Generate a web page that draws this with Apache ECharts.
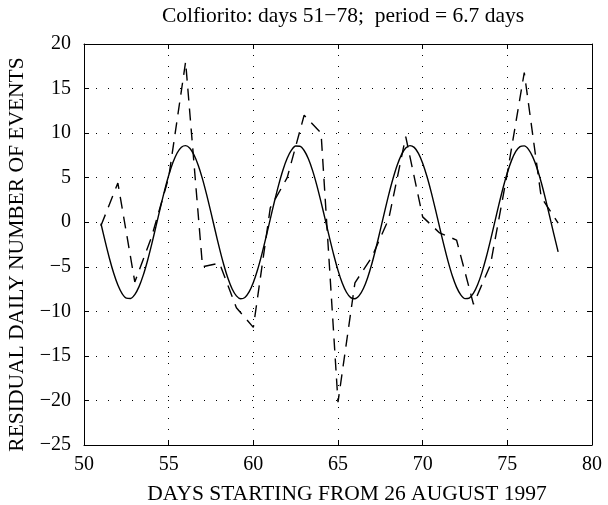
<!DOCTYPE html>
<html>
<head>
<meta charset="utf-8">
<script src="https://cdn.jsdelivr.net/npm/echarts@6/dist/echarts.min.js"></script>
<style>
html,body{margin:0;padding:0;background:#fff;}
#chart{width:608px;height:505px;}
</style>
</head>
<body>
<div id="chart"></div>
<script>
// Observed residual daily number of events (dashed)
const obsDays = [51,52,53,54,55,56,57,58,59,60,61,62,63,64,65,66,67,68,69,70,71,72,73,74,75,76,77,78];
const obsValues = [-0.4,4.4,-6.7,-1.6,5.0,18.0,-5.0,-4.6,-9.6,-11.8,1.6,5.0,12.0,10.0,-20.2,-6.8,-3.9,0.4,9.6,0.6,-1.2,-2.0,-9.2,-4.8,5.5,16.8,2.8,-0.1];

// Fitted periodic curve (solid), every quarter day
const fitDays = [51,51.25,51.5,51.75,52,52.25,52.5,52.75,53,53.25,53.5,53.75,54,54.25,54.5,54.75,55,55.25,55.5,55.75,56,56.25,56.5,56.75,57,57.25,57.5,57.75,58,58.25,58.5,58.75,59,59.25,59.5,59.75,60,60.25,60.5,60.75,61,61.25,61.5,61.75,62,62.25,62.5,62.75,63,63.25,63.5,63.75,64,64.25,64.5,64.75,65,65.25,65.5,65.75,66,66.25,66.5,66.75,67,67.25,67.5,67.75,68,68.25,68.5,68.75,69,69.25,69.5,69.75,70,70.25,70.5,70.75,71,71.25,71.5,71.75,72,72.25,72.5,72.75,73,73.25,73.5,73.75,74,74.25,74.5,74.75,75,75.25,75.5,75.75,76,76.25,76.5,76.75,77,77.25,77.5,77.75,78];
const fitValues = [-0.14,-2.15,-4.04,-5.70,-7.05,-8.01,-8.52,-8.56,-8.12,-7.23,-5.94,-4.32,-2.46,-0.47,1.56,3.49,5.24,6.69,7.77,8.42,8.60,8.30,7.54,6.37,4.84,3.04,1.07,-0.96,-2.93,-4.74,-6.29,-7.49,-8.27,-8.59,-8.44,-7.82,-6.76,-5.33,-3.60,-1.67,0.35,2.35,4.22,5.86,7.17,8.08,8.55,8.53,8.05,7.12,5.79,4.14,2.26,0.26,-1.76,-3.68,-5.40,-6.82,-7.86,-8.46,-8.59,-8.24,-7.44,-6.22,-4.66,-2.84,-0.86,1.16,3.13,4.91,6.43,7.59,8.32,8.60,8.40,7.73,6.63,5.16,3.41,1.46,-0.56,-2.55,-4.40,-6.01,-7.28,-8.15,-8.57,-8.51,-7.97,-7.00,-5.63,-3.96,-2.06,-0.05,1.97,3.87,5.56,6.94,7.94,8.49,8.57,8.18,7.33,6.08,4.48,2.64,0.65,-1.37,-3.32];

const xMin = 50, xMax = 80, xStep = 5;
const yMin = -25, yMax = 20, yStep = 5;

const titleText = 'Colfiorito: days 51\u221278;  period = 6.7 days';
const xName = 'DAYS STARTING FROM 26 AUGUST 1997';
const yName = 'RESIDUAL DAILY NUMBER OF EVENTS';

const FONT = '"Liberation Serif", "Times New Roman", serif';

const chart = echarts.init(document.getElementById('chart'), null, {renderer:'canvas'});

const minus = v => String(v).replace('-', '\u2212');

const baseX = {
  type:'value', min:xMin, max:xMax, interval:xStep,
  axisLine:{show:true, onZero:false, lineStyle:{color:'#000', width:1}},
  axisTick:{show:true, inside:true, length:5, lineStyle:{color:'#000'}},
};
const baseY = {
  type:'value', min:yMin, max:yMax, interval:yStep,
  axisLine:{show:true, onZero:false, lineStyle:{color:'#000', width:1}},
  axisTick:{show:true, inside:true, length:5, lineStyle:{color:'#000'}},
};

chart.setOption({
  backgroundColor:'#fff',
  animation:false,
  title:{
    text:titleText, left:338, top:0, textAlign:'center',
    textStyle:{fontFamily:FONT, fontSize:21.5, fontWeight:'normal', color:'#000'}
  },
  grid:{left:84, right:16, top:44, bottom:60, containLabel:false, outerBoundsMode:'none'},
  xAxis:[
    Object.assign({}, baseX, {
      position:'bottom',
      name:xName, nameLocation:'middle', nameGap:38,
      nameTextStyle:{fontFamily:FONT, fontSize:21.5, color:'#000', padding:[0,0,0,18]},
      axisLabel:{show:true, margin:10, fontFamily:FONT, fontSize:20, color:'#000', formatter:minus},
      splitLine:{show:true, lineStyle:{color:'#000', width:1, type:[1,10]}}
    }),
    Object.assign({}, baseX, {
      position:'top', axisLabel:{show:false}, splitLine:{show:false}
    })
  ],
  yAxis:[
    Object.assign({}, baseY, {
      position:'left',
      name:yName, nameLocation:'middle', nameGap:50, nameRotate:90,
      nameTextStyle:{fontFamily:FONT, fontSize:21.5, color:'#000', padding:[0,20,0,0]},
      axisLabel:{show:true, margin:13, fontFamily:FONT, fontSize:20, color:'#000', formatter:minus},
      splitLine:{show:true, lineStyle:{color:'#000', width:1, type:[1,11]}}
    }),
    Object.assign({}, baseY, {
      position:'right', axisLabel:{show:false}, splitLine:{show:false}
    })
  ],
  series:[
    {
      type:'line', xAxisIndex:0, yAxisIndex:0,
      data:fitDays.map((d,i)=>[d, fitValues[i]]),
      smooth:0.3, showSymbol:false, symbol:'none',
      lineStyle:{color:'#000', width:1.4, type:'solid'},
      z:3
    },
    {
      type:'line', xAxisIndex:0, yAxisIndex:0,
      data:obsDays.map((d,i)=>[d, obsValues[i]]),
      smooth:false, showSymbol:false, symbol:'none',
      lineStyle:{color:'#000', width:1.4, type:[12,8]},
      z:4
    }
  ]
});
</script>
</body>
</html>
